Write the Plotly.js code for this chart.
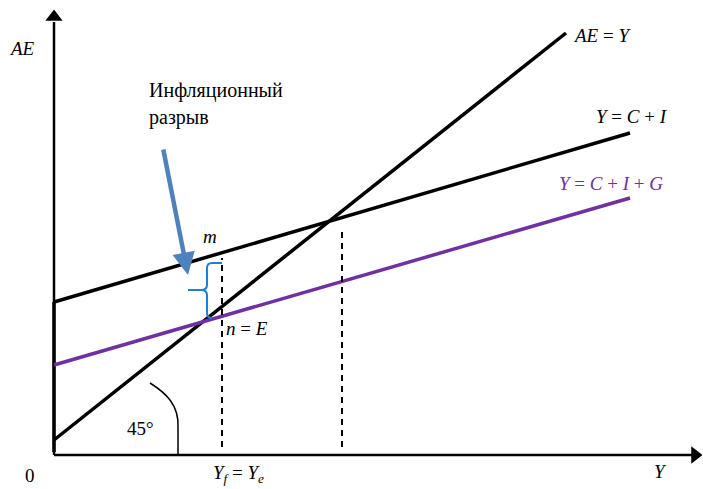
<!DOCTYPE html>
<html><head><meta charset="utf-8">
<script src="https://cdn.plot.ly/plotly-3.0.1.min.js"></script>
<style>
.modebar-container, .modebar { display: none !important; }
</style>
</head>
<body style="margin:0;background:#fff">
<div id="chart" style="width:703px;height:489px"></div>
<script>
// Data (diagram units: origin at the axes' corner)
const aeY_x = [0, 512];        // AE = Y (45° line)
const aeY_y = [15, 422];
const ci_x = [0, 576];         // Y = C + I
const ci_y = [153, 322];
const cig_x = [0, 576];        // Y = C + I + G
const cig_y = [90, 257];
const yfX = 168;               // Yf = Ye
const yfTop = 197;
const eqX = 288;               // equilibrium of C + I
const eqTop = 223;
const xAxisEnd = 646;
const yAxisEnd = 445;

const fontFam = 'Liberation Serif';
const purple = '#7030a0';

const traces = [
  {x:[0, xAxisEnd-8], y:[0,0], mode:'lines', line:{color:'#000', width:2.5}},
  {x:[0,0], y:[0, yAxisEnd-12], mode:'lines', line:{color:'#000', width:2.5}},
  {x:[0,0], y:[3, ci_y[0]], mode:'lines', line:{color:'#000', width:3.5}},
  {x:[xAxisEnd-5], y:[0], mode:'markers', marker:{symbol:'triangle-right', size:15, color:'#000'}},
  {x:[0], y:[yAxisEnd-7], mode:'markers', marker:{symbol:'triangle-up', size:15, color:'#000'}},
  {x:aeY_x, y:aeY_y, mode:'lines', line:{color:'#000', width:3.5}},
  {x:ci_x, y:ci_y, mode:'lines', line:{color:'#000', width:3.5}},
  {x:cig_x, y:cig_y, mode:'lines', line:{color:purple, width:3.5}},
  {x:[yfX, yfX], y:[8, yfTop], mode:'lines', line:{color:'#000', width:2, dash:'6px,5px'}},
  {x:[eqX, eqX], y:[8, eqTop], mode:'lines', line:{color:'#000', width:2, dash:'6px,5px'}}
];

function ann(x, y, text, xanchor, size, color) {
  return {x: x, y: y, xanchor: xanchor || 'center', text: text, showarrow: false,
    font: {family: fontFam, size: size || 19, color: color || '#000'}};
}

const annotations = [
  ann(-32, 407, '<i>AE</i>'),
  ann(93, 365, 'Инфляционный', 'left', 20),
  ann(93, 338, 'разрыв', 'left', 20),
  ann(156, 219, '<i>m</i>'),
  ann(170, 127, '<i>n</i> = <i>E</i>', 'left'),
  ann(86, 27, '45°'),
  ann(-24, -20, '0'),
  ann(184, -19, '<i>Y</i><sub><i>f</i></sub> = <i>Y</i><sub><i>e</i></sub>'),
  ann(606, -16, '<i>Y</i>'),
  ann(517, 420, '<i>AE</i> = <i>Y</i>', 'left'),
  ann(540, 339, '<i>Y</i> = <i>C</i> + <i>I</i>', 'left'),
  ann(503, 272, '<i>Y</i> = <i>C</i> + <i>I</i> + <i>G</i>', 'left', 19, purple),
  {x:134, y:180, ax:109, ay:307, axref:'x', ayref:'y', text:'', showarrow:true,
   arrowhead:2, arrowsize:1, arrowwidth:4.5, arrowcolor:'#4f81bd'}
];

const shapes = [
  {type:'path', xref:'x', yref:'y',
   path:'M 168 192 L 158 192 Q 153 192 153 187 L 153 170 Q 153 165 147 165 L 134 165 L 147 165 Q 153 165 153 160 L 153 142 Q 153 137 158 137',
   line:{color:'#1f7fd6', width:2}},
  {type:'path', xref:'x', yref:'y',
   path:'M 96 72 C 112 62, 125 50, 124 28 L 124 0',
   line:{color:'#000', width:1.5}}
];

const layout = {
  width:703, height:489,
  margin:{l:0, r:0, t:0, b:0},
  showlegend:false,
  xaxis:{range:[-54, 649], visible:false},
  yaxis:{range:[-34, 455], visible:false},
  annotations: annotations,
  shapes: shapes
};

Plotly.newPlot('chart', traces, layout);
</script></body></html>
